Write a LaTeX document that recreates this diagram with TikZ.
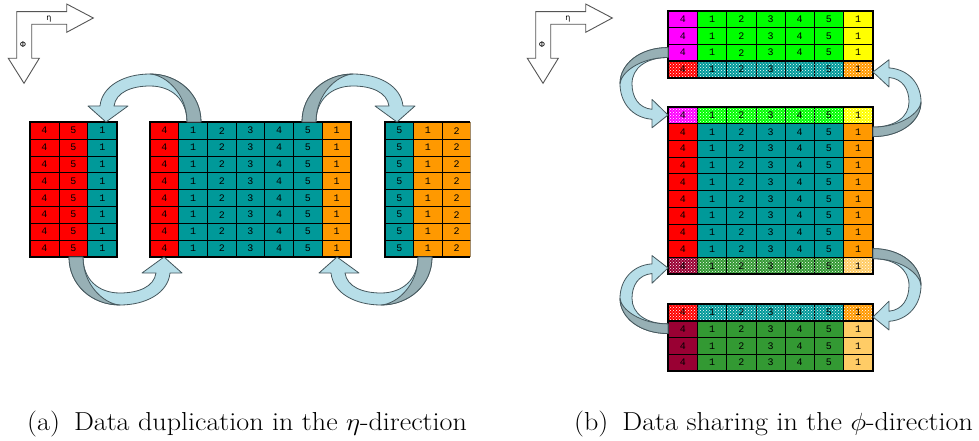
\documentclass[tikz,border=0pt]{standalone}
\usepackage{fontspec}
\newfontfamily\cellfont{Liberation Mono}
\newfontfamily\axfont{DejaVu Sans}
\usetikzlibrary{patterns}
\definecolor{cred}{HTML}{FF0000}
\definecolor{cteal}{HTML}{009999}
\definecolor{corange}{HTML}{FF9900}
\definecolor{cmag}{HTML}{FF00FF}
\definecolor{cgrn}{HTML}{00FF00}
\definecolor{cyel}{HTML}{FFFF00}
\definecolor{cmar}{HTML}{990033}
\definecolor{cdgrn}{HTML}{339933}
\definecolor{clor}{HTML}{FFCC66}
\definecolor{arrL}{HTML}{B7DEE8}
\definecolor{arrD}{HTML}{97B0B5}
\definecolor{arrO}{HTML}{46585E}
\definecolor{axO}{HTML}{555555}
\tikzset{
  cell/.style={draw=black, line width=0.7pt, inner sep=0pt, outer sep=0pt,
    font=\cellfont\fontsize{10}{10}\selectfont, text=black},
  dotc/.style={postaction={pattern=crosshatch dots, pattern color=white}},
  border/.style={draw=black, line width=2pt},
  sepline/.style={draw=black, line width=1.8pt},
  arrlight/.style={fill=arrL, draw=arrO, line width=0.8pt, line join=round},
  arrdark/.style={fill=arrD, draw=arrO, line width=0.8pt, line join=round},
  axarrow/.style={draw=axO, fill=white, line width=0.9pt},
  axlabel/.style={font=\axfont\fontsize{8}{8}\selectfont, inner sep=0pt},
  caption/.style={font=\fontsize{26}{30}\selectfont, anchor=base west, inner sep=0pt}
}
% name, x0, ytop, w, h, spec
\newcommand\cellrow[6]{%
  \foreach \cellcol/\celltxt [count=\k from 0] in {#6}{%
    \node[cell, fill=\cellcol, minimum width=#4pt, minimum height=#5pt]
      (#1-\k) at ({#2+(\k+0.5)*#4},{#3+0.5*#5}) {\celltxt};}}
\newcommand\dotrow[6]{%
  \foreach \cellcol/\celltxt [count=\k from 0] in {#6}{%
    \node[cell, fill=\cellcol, dotc, minimum width=#4pt, minimum height=#5pt]
      (#1-\k) at ({#2+(\k+0.5)*#4},{#3+0.5*#5}) {\celltxt};}}
\newcommand\curvarrow[1]{%
  \begin{scope}[#1]
    \filldraw[arrlight] (-6,-16) .. controls (-4,-36) and (18,-48) .. (44,-48)
      .. controls (72,-48) and (95,-28) .. (95,0) -- (81,0)
      .. controls (81,-22) and (66,-36) .. (44,-36)
      .. controls (26,-36) and (10,-30) .. (8,-16) -- (22,-16) -- (0,0) -- (-18,-16) -- cycle;
    \filldraw[arrdark] (95,0) .. controls (95,-28) and (72,-48) .. (44,-48)
      .. controls (60,-47) and (81,-28) .. (81,0) -- cycle;
  \end{scope}}
\newcommand\axisarrow[1]{%
  \begin{scope}[shift={(#1,0)}]
    \draw[axarrow] (16.7,11.7) -- (66.7,11.7) -- (66.7,4) -- (93.3,18) -- (66.7,32.3)
      -- (66.7,24.3) -- (31.7,24.3) -- (31.7,58.3) -- (39.3,58.3) -- (24,83.3)
      -- (8.3,58.3) -- (16.7,58.3) -- cycle;
  \end{scope}}
\begin{document}
\begin{tikzpicture}[x=1pt,y=-1pt]
\useasboundingbox[fill=white] (0,0) rectangle (979,441);

% ---------- panel (a) ----------
\axisarrow{0}
\node[axlabel] (etaA) at (49,19.5) {η};
\node[axlabel] (phiA) at (23,44.3) {Φ};

\foreach \r in {0,...,7}{\cellrow{A\r}{30}{122.3+\r*16.8}{28.9}{16.8}{cred/4,cred/5,cteal/1}}
\draw[border] (30,122.3) rectangle (116.7,256.7);

\foreach \r in {0,...,7}{\cellrow{B\r}{150}{122.3+\r*16.8}{28.71}{16.8}{cred/4,cteal/1,cteal/2,cteal/3,cteal/4,cteal/5,corange/1}}
\draw[border] (150,122.3) rectangle (351,256.7);

\begin{scope}
  \clip (370,100) rectangle (470.3,280);
  \foreach \r in {0,...,7}{\cellrow{C\r}{385}{122.3+\r*16.8}{28.6}{16.8}{cteal/5,corange/1,corange/2}}
\end{scope}
\draw[border] (470.3,122.3) -- (385,122.3) -- (385,256.7) -- (470.3,256.7);

\curvarrow{shift={(106,122)}}
\curvarrow{shift={(397,122)}, xscale=-1}
\curvarrow{shift={(164,257)}, rotate=180}
\curvarrow{shift={(337,257)}, yscale=-1}

% ---------- panel (b) ----------
\axisarrow{519}
\node[axlabel] (etaB) at (568,19.5) {η};
\node[axlabel] (phiB) at (542,44.3) {Φ};

% top grid
\foreach \r in {0,1,2}{\cellrow{T\r}{668.3}{11+\r*16.67}{29.2}{16.67}{cmag/4,cgrn/1,cgrn/2,cgrn/3,cgrn/4,cgrn/5,cyel/1}}
\dotrow{T3}{668.3}{11+3*16.67}{29.2}{16.67}{cred/4,cteal/1,cteal/2,cteal/3,cteal/4,cteal/5,corange/1}
\draw[sepline] (668.3,61) -- (872.7,61);
\draw[border] (668.3,11) rectangle (872.7,77.7);

% middle grid
\dotrow{M0}{668.3}{106.7}{29.2}{16.76}{cmag/4,cgrn/1,cgrn/2,cgrn/3,cgrn/4,cgrn/5,cyel/1}
\foreach \r in {1,...,8}{\cellrow{M\r}{668.3}{106.7+\r*16.76}{29.2}{16.76}{cred/4,cteal/1,cteal/2,cteal/3,cteal/4,cteal/5,corange/1}}
\dotrow{M9}{668.3}{106.7+9*16.76}{29.2}{16.76}{cmar/4,cdgrn/1,cdgrn/2,cdgrn/3,cdgrn/4,cdgrn/5,clor/1}
\draw[sepline] (668.3,123.46) -- (872.7,123.46);
\draw[sepline] (668.3,257.54) -- (872.7,257.54);
\draw[border] (668.3,106.7) rectangle (872.7,274.3);

% bottom grid
\dotrow{G0}{668.3}{304.3}{29.2}{16.67}{cred/4,cteal/1,cteal/2,cteal/3,cteal/4,cteal/5,corange/1}
\foreach \r in {1,2,3}{\cellrow{G\r}{668.3}{304.3+\r*16.67}{29.2}{16.67}{cmar/4,cdgrn/1,cdgrn/2,cdgrn/3,cdgrn/4,cdgrn/5,clor/1}}
\draw[sepline] (668.3,320.97) -- (872.7,320.97);
\draw[border] (668.3,304.3) rectangle (872.7,371);

\curvarrow{shift={(668,115)}, rotate=90, xscale=0.71}
\curvarrow{shift={(873,72)}, rotate=-90, xscale=0.68}
\curvarrow{shift={(873,317)}, rotate=90, yscale=-1, xscale=0.72}
\curvarrow{shift={(668,268)}, rotate=-90, yscale=-1, xscale=0.69}

% captions
\node[caption] (capA) at (27,430) {\scalebox{1.08}[1]{(a)\hspace{0.5em}Data duplication in the $\eta$-direction}};
\node[caption] (capB) at (574,430) {\scalebox{1.08}[1]{(b)\hspace{0.5em}Data sharing in the $\phi$-direction}};
\end{tikzpicture}
\end{document}
